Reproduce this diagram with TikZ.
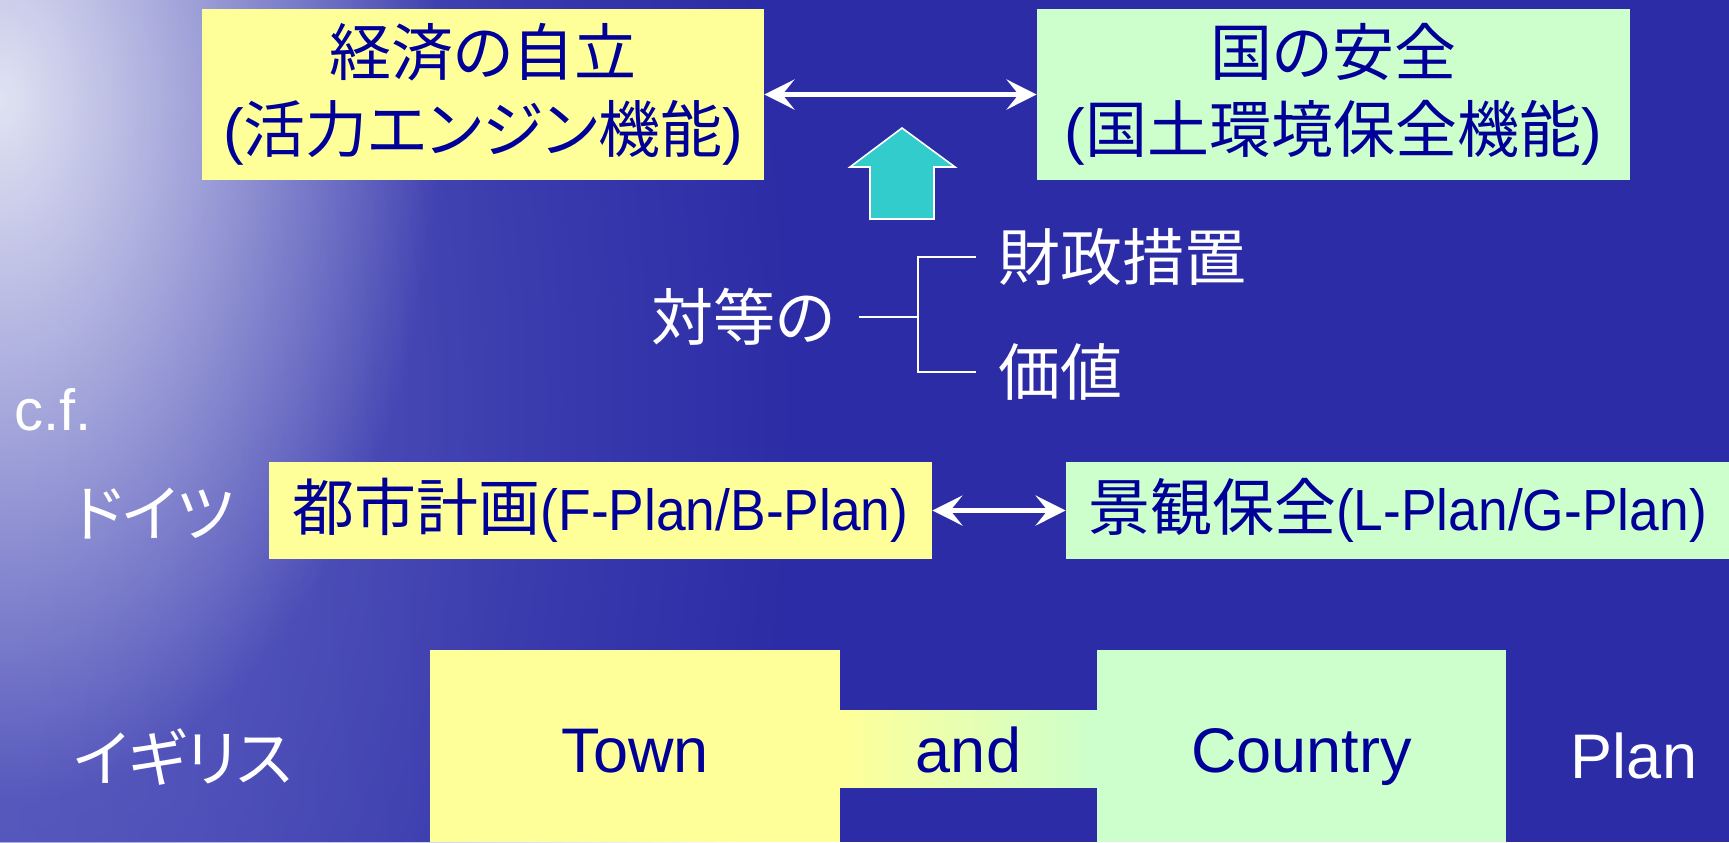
\documentclass[tikz,border=0pt]{standalone}
\usepackage{fontspec}
\setmainfont{Liberation Sans}
\newfontfamily\jpfont[RawFeature=+palt]{Noto Sans CJK JP}
\newfontfamily\narrowfont[FakeStretch=0.92]{Liberation Sans}
\usepackage{tikz}
\usetikzlibrary{arrows.meta,fadings}

\definecolor{seablue}{RGB}{44,44,166}
\definecolor{seapale}{RGB}{100,102,196}
\definecolor{seaglow}{RGB}{232,234,246}
\definecolor{boxyellow}{RGB}{255,255,153}
\definecolor{boxgreen}{RGB}{204,255,204}
\definecolor{inkblue}{RGB}{0,0,153}
\definecolor{arrowcyan}{RGB}{51,204,204}

\tikzfading[name=fadeoutright, left color=transparent!0, right color=transparent!100]
\tikzfading[name=glowfade, inner color=transparent!5, outer color=transparent!100]
\tikzfading[name=softfade, inner color=transparent!20, outer color=transparent!100]

\tikzset{
  panel/.style={inner sep=0pt, text=inkblue, align=center, font=\fontsize{31}{38.5}\selectfont},
  yellowpanel/.style={panel, fill=boxyellow},
  greenpanel/.style={panel, fill=boxgreen},
  whitelabel/.style={text=white, inner sep=0pt, font=\fontsize{31}{38.5}\selectfont},
  twoway/.style={{Stealth[length=15pt,width=15pt,inset=6pt]}-{Stealth[length=15pt,width=15pt,inset=6pt]}, white, line width=2.4pt},
  forkline/.style={white, line width=0.8pt},
}

\begin{document}
\begin{tikzpicture}[x=0.5pt,y=-0.5pt]
\useasboundingbox (0,0) rectangle (1729,842);

% sea background
\begin{scope}
    \clip (0,0) rectangle (1729,842);
    \fill[seablue] (0,0) rectangle (1729,842);
    \fill[seapale, path fading=softfade] (-800,-900) rectangle (800,1700);
    \fill[seapale, path fading=fadeoutright, opacity=0.5] (0,0) rectangle (520,842);
    \fill[seaglow, path fading=glowfade] (-440,-600) rectangle (440,800);
\end{scope}

% the two functions
\begin{scope}
    \node[yellowpanel, minimum width=281pt, minimum height=85.5pt] (keizai) at (483,94.5)
        {{\jpfont 経済の自立}\\({\jpfont 活力エンジン機能})};
    \node[greenpanel, minimum width=296.5pt, minimum height=85.5pt] (kuni) at (1333.5,94.5)
        {{\jpfont 国の安全}\\({\jpfont 国土環境保全機能})};
    \draw[twoway] (keizai) -- (kuni);

    \filldraw[fill=arrowcyan, draw=white, line width=0.8pt]
        (870,219) -- (870,167) -- (850,167) -- (902,128) -- (955,167) -- (934,167) -- (934,219) -- cycle;

    \node[whitelabel, inner sep=12pt] (taito) at (743,317) {\jpfont 対等の};
    \node[whitelabel, inner sep=11pt, anchor=west] (zaisei) at (976,257) {\jpfont 財政措置};
    \node[whitelabel, inner sep=11pt, anchor=west] (kachi) at (976,372) {\jpfont 価値};
    \coordinate (fork) at (918,317);
    \draw[forkline] (taito.east) -- (fork);
    \draw[forkline] (zaisei.west) -| (fork);
    \draw[forkline] (kachi.west) -| (fork);
\end{scope}

% Germany
\begin{scope}
    \node[whitelabel, font=\fontsize{29}{34}\selectfont, anchor=base west] (cf) at (14,430) {c.f.};
    \node[whitelabel, anchor=west] (doitsu) at (73,514) {\jpfont ドイツ};
    \node[yellowpanel, minimum width=331.5pt, minimum height=48.5pt] (toshi) at (600.5,510.5)
        {{\jpfont 都市計画}{\narrowfont\fontsize{29}{34}\selectfont (F-Plan/B-Plan)}};
    \node[greenpanel, minimum width=331.5pt, minimum height=48.5pt] (keikan) at (1397.5,510.5)
        {{\jpfont 景観保全}{\narrowfont\fontsize{29}{34}\selectfont (L-Plan/G-Plan)}};
    \draw[twoway] (toshi) -- (keikan);
\end{scope}

% Britain
\begin{scope}
    \node[whitelabel, anchor=west] (igirisu) at (73,757) {\jpfont イギリス};
    \node[panel, left color=boxyellow, right color=boxgreen, font=\fontsize{31.5}{38}\selectfont,
        minimum width=128.5pt, minimum height=38.5pt, text height=23.5pt, text depth=0pt] (andband) at (968.5,748.5) {and};
    \node[yellowpanel, font=\fontsize{31.5}{38}\selectfont, minimum width=205pt, minimum height=96pt,
        text height=26pt, text depth=0pt] (town) at (635,746) {Town};
    \node[greenpanel, font=\fontsize{31.5}{38}\selectfont, minimum width=204.5pt, minimum height=96pt,
        text height=26pt, text depth=0pt] (country) at (1301.5,746) {Country};
    \node[whitelabel, font=\fontsize{31.5}{38}\selectfont, anchor=base] (plan) at (1634,778) {Plan};
\end{scope}
\end{tikzpicture}
\end{document}
